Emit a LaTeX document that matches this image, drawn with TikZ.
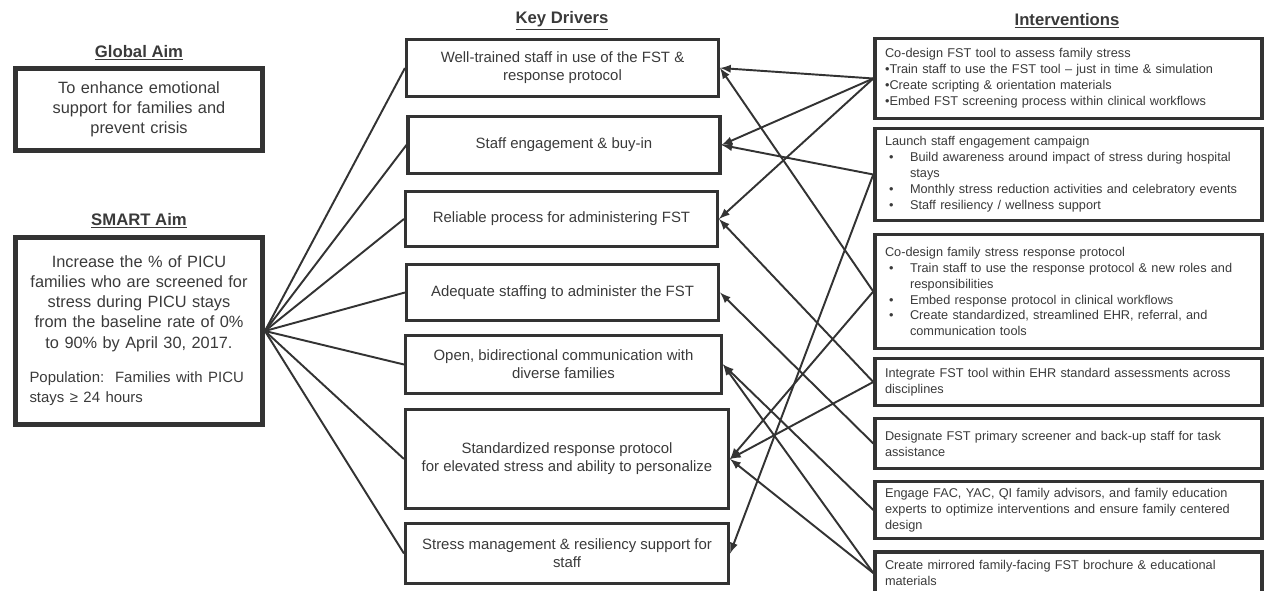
\documentclass[tikz,border=0pt]{standalone}
\usepackage{fontspec}
\setmainfont{Liberation Sans}
\usepackage{tikz}
\definecolor{kdgray}{RGB}{51,51,51}
\definecolor{kdtext}{RGB}{58,58,58}

\newcommand{\ibul}{\makebox[0.5cm][l]{\hspace{0.08cm}•}}
\newcommand{\icont}{\hspace*{0.5cm}}

\begin{document}
\begin{tikzpicture}[x=0.02cm, y=-0.02cm, >=latex,
    heading/.style={font=\bfseries\fontsize{9.5}{11}\selectfont, text=kdtext},
    aimbox/.style={draw=kdgray, line width=2.8pt, minimum width=4.94cm, text width=4.7cm, inner xsep=0.12cm, align=center, font=\fontsize{9.3}{11.4}\selectfont, text=kdtext},
    driver/.style={draw=kdgray, line width=1.8pt, minimum width=6.24cm, align=center, font=\fontsize{8.5}{10.2}\selectfont, text=kdtext},
    interv/.style={draw=kdgray, line width=2pt, inner xsep=0.2cm, text width=7.34cm, align=left, font=\fontsize{7.25}{9.07}\selectfont, text=kdtext},
    link/.style={kdgray, line width=1.1pt}]
                \useasboundingbox (0,0) rectangle (1264,591);

                % Aims
                \node[heading] (globalhd) at (139,53) {\underline{Global Aim}};
                \node[aimbox, minimum height=1.64cm] (global) at (139,109.5) {To enhance emotional\\support for families and\\prevent crisis};
                \node[heading] (smarthd) at (139,221) {\underline{SMART Aim}};
                \node[aimbox, minimum height=3.74cm] (smart) at (139,331) {Increase the \% of PICU\\families who are screened for\\stress during PICU stays\\from the baseline rate of 0\%\\to 90\% by April 30, 2017.\\[9pt]{\fontsize{8.5}{10.8}\selectfont\makebox[\linewidth][l]{\hspace{0.16cm}Population:\ \ Families with PICU}\\\makebox[\linewidth][l]{\hspace{0.16cm}stays ≥ 24 hours}}};

                % Key drivers
                \node[heading] (kdhd) at (562,21) {\underline{Key Drivers}};
                \node[driver, minimum height=1.14cm] (kd1) at (562.5,68) {Well-trained staff in use of the FST \&\\response protocol};
                \node[driver, minimum height=1.14cm] (kd2) at (564,145) {Staff engagement \& buy-in};
                \node[driver, minimum height=1.1cm] (kd3) at (561.5,219) {Reliable process for administering FST};
                \node[driver, minimum height=1.12cm] (kd4) at (562.5,292.5) {Adequate staffing to administer the FST};
                \node[driver, minimum height=1.16cm, minimum width=6.32cm] (kd5) at (563.5,364.5) {Open, bidirectional communication with\\diverse families};
                \node[driver, minimum height=1.98cm, minimum width=6.46cm] (kd6) at (567,459) {Standardized response protocol\\for elevated stress and ability to personalize};
                \node[driver, minimum height=1.2cm, minimum width=6.46cm] (kd7) at (567,553.5) {Stress management \& resiliency support for\\staff};

                % Interventions
                \node[heading] (inthd) at (1067,21) {\underline{Interventions}};
                \node[interv, minimum height=1.6cm] (int1) at (1068.5,78.5) {Co-design FST tool to assess family stress\\•Train staff to use the FST tool – just in time \& simulation\\•Create scripting \& orientation materials\\•Embed FST screening process within clinical workflows};
                \node[interv, minimum height=1.84cm] (int2) at (1068.5,174.5) {Launch staff engagement campaign\\\ibul Build awareness around impact of stress during hospital\\\icont stays\\\ibul Monthly stress reduction activities and celebratory events\\\ibul Staff resiliency / wellness support};
                \node[interv, minimum height=2.28cm] (int3) at (1068.5,291.5) {Co-design family stress response protocol\\\ibul Train staff to use the response protocol \& new roles and\\\icont responsibilities\\\ibul Embed response protocol in clinical workflows\\\ibul Create standardized, streamlined EHR, referral, and\\\icont communication tools};
                \node[interv, minimum height=0.94cm] (int4) at (1068.5,382) {Integrate FST tool within EHR standard assessments across\\disciplines};
                \node[interv, minimum height=1cm] (int5) at (1068.5,443.5) {Designate FST primary screener and back-up staff for task\\assistance};
                \node[interv, minimum height=1.14cm] (int6) at (1068.5,510) {Engage FAC, YAC, QI family advisors, and family education\\experts to optimize interventions and ensure family centered\\design};
                \node[interv, minimum height=0.84cm] (int7) at (1068.5,573) {Create mirrored family-facing FST brochure \& educational\\materials};

                % SMART aim to key drivers
                \draw[link] (smart.east) -- (kd1.west);
                \draw[link] (smart.east) -- (kd2.west);
                \draw[link] (smart.east) -- (kd3.west);
                \draw[link] (smart.east) -- (kd4.west);
                \draw[link] (smart.east) -- (kd5.west);
                \draw[link] (smart.east) -- (kd6.west);
                \draw[link] (smart.east) -- (kd7.west);

                % Interventions to key drivers
                \draw[link, ->] (int1.west) -- (kd1.east);
                \draw[link, ->] (int1.west) -- (kd2.east);
                \draw[link, ->] (int1.west) -- (kd3.east);
                \draw[link, ->] (int2.west) -- (kd2.east);
                \draw[link, ->] (int2.west) -- (kd7.east);
                \draw[link, ->] (int3.west) -- (kd1.east);
                \draw[link, ->] (int3.west) -- (kd6.east);
                \draw[link, ->] (int4.west) -- (kd3.east);
                \draw[link, ->] (int4.west) -- (kd6.east);
                \draw[link, ->] (int5.west) -- (kd4.east);
                \draw[link, ->] (int6.west) -- (kd5.east);
                \draw[link, ->] (int7.west) -- (kd5.east);
                \draw[link, ->] (int7.west) -- (kd6.east);
            \end{tikzpicture}
\end{document}
